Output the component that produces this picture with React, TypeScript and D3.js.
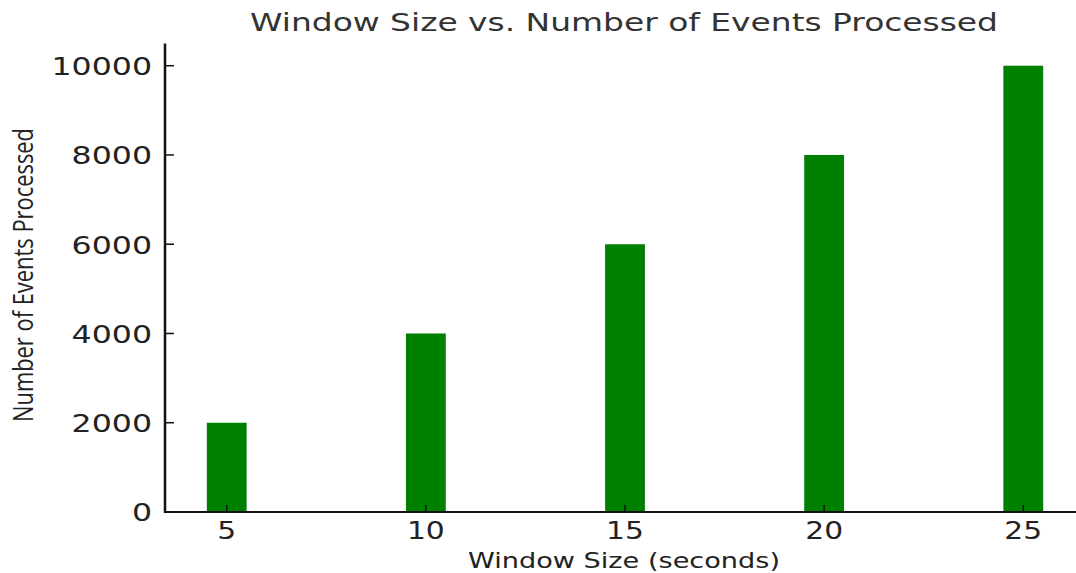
import React from "react";
import * as d3 from "d3";

const windowSizes = [5, 10, 15, 20, 25];
const eventsProcessed = [2000, 4000, 6000, 8000, 10000];
const yTicks = [0, 2000, 4000, 6000, 8000, 10000];
const xTicks = [5, 10, 15, 20, 25];

const W = 1076;
const H = 573;

export default function App() {
  const x = d3.scaleLinear().domain([3.45, 26.55]).range([165, 1085]);
  const y = d3.scaleLinear().domain([0, 10500]).range([512, 43.4]);
  const barW = x(1) - x(0);
  const font = "DejaVu Sans";
  return (
    <svg
      width={W}
      height={H}
      style={{ position: "absolute", left: 0, top: 0, background: "#fff" }}
    >
      <rect x={0} y={0} width={W} height={H} fill="#fff" />
      {windowSizes.map((w, i) => (
        <rect
          key={w}
          x={x(w - 0.5)}
          y={y(eventsProcessed[i])}
          width={barW}
          height={y(0) - y(eventsProcessed[i])}
          fill="#008000"
        />
      ))}
      {/* spines */}
      <line x1={165} x2={165} y1={y(10500)} y2={y(0) + 1} stroke="#111" strokeWidth={2.5} />
      <line x1={164} x2={W} y1={y(0)} y2={y(0)} stroke="#111" strokeWidth={2} />
      {/* y ticks */}
      {yTicks.map((t) => (
        <g key={t}>
          <line x1={165} x2={174} y1={y(t)} y2={y(t)} stroke="#111" strokeWidth={1.5} />
          <text
            transform={`translate(152, ${y(t) + 9.3}) scale(1.24,1)`}
            textAnchor="end"
            fontFamily={font}
            fontSize={25.5}
            fill="#222"
          >
            {t}
          </text>
        </g>
      ))}
      {/* x ticks */}
      {xTicks.map((t) => (
        <g key={t}>
          <line x1={x(t)} x2={x(t)} y1={y(0)} y2={y(0) - 7} stroke="#111" strokeWidth={1.5} />
          <text
            transform={`translate(${x(t)}, 539) scale(1.24,1)`}
            textAnchor="middle"
            fontFamily={font}
            fontSize={24}
            fill="#222"
          >
            {t}
          </text>
        </g>
      ))}
      <text
        x={624}
        y={31}
        textAnchor="middle"
        fontFamily={font}
        fontSize={24.5}
        fill="#333"
        textLength={748}
        lengthAdjust="spacingAndGlyphs"
      >
        Window Size vs. Number of Events Processed
      </text>
      <text
        x={624}
        y={567.5}
        textAnchor="middle"
        fontFamily={font}
        fontSize={22}
        fill="#222"
        textLength={312}
        lengthAdjust="spacingAndGlyphs"
      >
        Window Size (seconds)
      </text>
      <text
        transform={`translate(33.3, 275) rotate(-90)`}
        textAnchor="middle"
        fontFamily="Open Sans"
        fontSize={28}
        fill="#222"
        textLength={294}
        lengthAdjust="spacingAndGlyphs"
      >
        Number of Events Processed
      </text>
    </svg>
  );
}
